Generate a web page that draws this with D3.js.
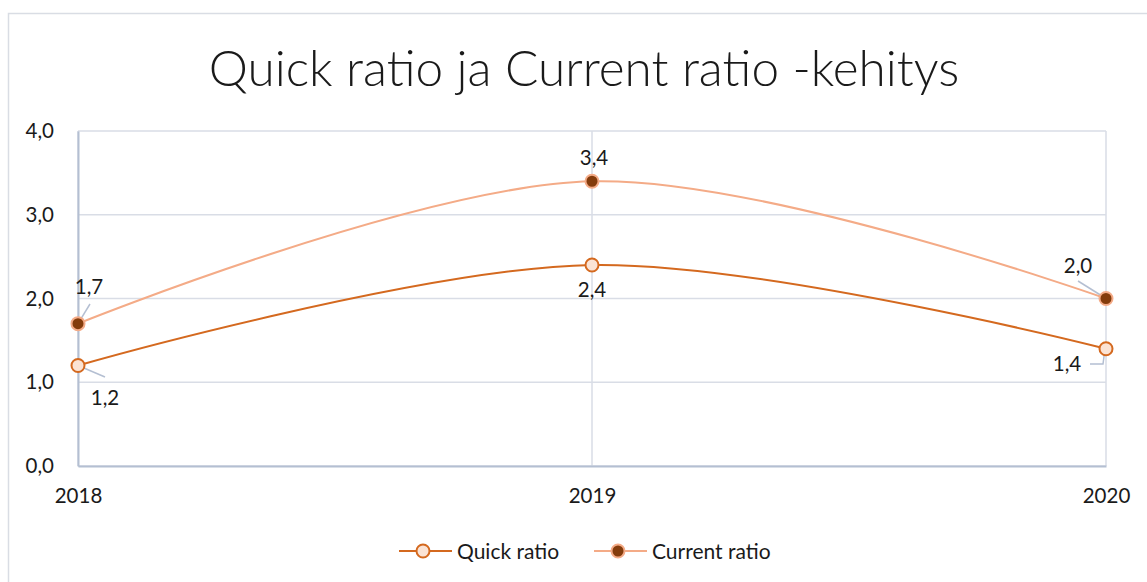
<!DOCTYPE html>
<html>
<head>
<meta charset="utf-8">
<script src="https://cdn.jsdelivr.net/npm/d3@7"></script>
<style>
  body { margin: 0; background: #fff; }
  text { font-family: Lato, "Open Sans", sans-serif; fill: #1a1a1a; }
</style>
</head>
<body>
<svg id="chart" width="1147" height="582"></svg>
<script>
var years = ['2018', '2019', '2020'];
var quickRatio = [1.2, 2.4, 1.4];
var currentRatio = [1.7, 3.4, 2.0];
var yTicks = [0, 1, 2, 3, 4];
var seriesNames = ['Quick ratio', 'Current ratio'];

var svg = d3.select('#chart');
var margin = { left: 78, right: 41, top: 131, bottom: 116 };
var width = 1147, height = 582;

// chart frame
svg.append('rect').attr('x', 8.5).attr('y', 13.5).attr('width', 1160).attr('height', 600)
    .attr('fill', '#fff').attr('stroke', '#d9dde4').attr('stroke-width', 1.5);

var x = d3.scalePoint().domain(years).range([margin.left, width - margin.right]);
var y = d3.scaleLinear().domain([0, 4]).range([height - margin.bottom, margin.top]);

// title
svg.append('text').attr('x', 584).attr('y', 86).attr('text-anchor', 'middle')
    .style('font-size', '49.5px').style('font-weight', 300).text('Quick ratio ja Current ratio -kehitys');

// gridlines
svg.append('g').selectAll('line').data(yTicks).enter().append('line')
    .attr('x1', margin.left).attr('x2', width - margin.right)
    .attr('y1', function(d) { return y(d); }).attr('y2', function(d) { return y(d); })
    .attr('stroke', '#d9dde6').attr('stroke-width', 1.5);
svg.append('g').selectAll('line').data(years).enter().append('line')
    .attr('x1', function(d) { return x(d); }).attr('x2', function(d) { return x(d); })
    .attr('y1', y(0)).attr('y2', y(4))
    .attr('stroke', '#d9dde6').attr('stroke-width', 1.5);

// axes
var fmt = function(d) { return d3.format('.1f')(d).replace('.', ','); };
var yAxis = d3.axisLeft(y).tickValues(yTicks).tickSize(0).tickPadding(24).tickFormat(fmt);
var gy = svg.append('g').attr('transform', 'translate(' + margin.left + ',0)').call(yAxis);
gy.select('.domain').attr('stroke', '#b4bfd2').attr('stroke-width', 2);
gy.selectAll('text').style('font-size', '20.5px').attr('fill', '#1a1a1a');

var xAxis = d3.axisBottom(x).tickSize(0).tickPadding(22);
var gx = svg.append('g').attr('transform', 'translate(0,' + y(0) + ')').call(xAxis);
gx.select('.domain').attr('stroke', '#b4bfd2').attr('stroke-width', 2);
gx.selectAll('text').style('font-size', '20.5px').attr('fill', '#1a1a1a');

var line = d3.line()
    .x(function(d, i) { return x(years[i]); })
    .y(function(d) { return y(d); })
    .curve(d3.curveCardinal.tension(0));

var styles = [
    { line: '#d4691f', fill: '#fbe3d4', stroke: '#d4691f', data: quickRatio },
    { line: '#f4ab87', fill: '#843c0c', stroke: '#f4ab87', data: currentRatio }
];

styles.forEach(function(s) {
    svg.append('path').datum(s.data).attr('d', line)
        .attr('fill', 'none').attr('stroke', s.line).attr('stroke-width', 2);
});

// leader lines for data labels
var leaderColor = '#b4bfd2';
var leaders = [
    [[x('2018'), y(1.7)], [90, 304]],
    [[x('2018'), y(1.2)], [105, 377]],
    [[x('2020'), y(2.0)], [1078, 281]],
    [[x('2020') - 1, y(1.4)], [1103, 364], [1090, 364]]
];
leaders.forEach(function(p) {
    svg.append('path').attr('d', d3.line()(p)).attr('fill', 'none')
        .attr('stroke', leaderColor).attr('stroke-width', 1.5);
});

styles.forEach(function(s) {
    svg.append('g').selectAll('circle').data(s.data).enter().append('circle')
        .attr('cx', function(d, i) { return x(years[i]); })
        .attr('cy', function(d) { return y(d); })
        .attr('r', 6.5)
        .attr('fill', s.fill).attr('stroke', s.stroke).attr('stroke-width', 2);
});

// data labels
var quickOffsets = [[27, 39], [0, 32], [-39, 22.5]];
var currentOffsets = [[11, -29.5], [2, -16], [-28, -26]];
function addLabels(data, offsets) {
    svg.append('g').selectAll('text').data(data).enter().append('text')
        .attr('x', function(d, i) { return x(years[i]) + offsets[i][0]; })
        .attr('y', function(d, i) { return y(d) + offsets[i][1]; })
        .attr('text-anchor', 'middle')
        .style('font-size', '20.5px')
        .text(fmt);
}
addLabels(quickRatio, quickOffsets);
addLabels(currentRatio, currentOffsets);

// legend
var legend = svg.append('g');
var legendX = [399, 594];
seriesNames.forEach(function(name, i) {
    var s = styles[i];
    var g = legend.append('g').attr('transform', 'translate(' + legendX[i] + ',551)');
    g.append('line').attr('x1', 0).attr('x2', 53).attr('y1', 0).attr('y2', 0)
        .attr('stroke', s.line).attr('stroke-width', 2);
    g.append('circle').attr('cx', 24).attr('cy', 0).attr('r', 6.5)
        .attr('fill', s.fill).attr('stroke', s.stroke).attr('stroke-width', 2);
    g.append('text').attr('x', 58).attr('y', 7.5).style('font-size', '21px').text(name);
});
</script>
</body>
</html>
